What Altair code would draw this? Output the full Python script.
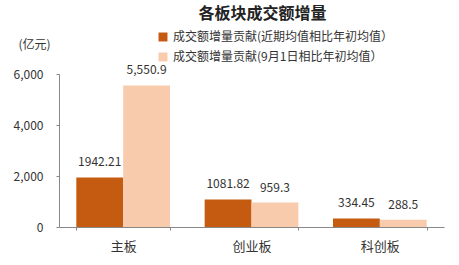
import altair as alt
import pandas as pd

boards = ["主板", "创业板", "科创板"]
series = ["成交额增量贡献(近期均值相比年初均值）", "成交额增量贡献(9月1日相比年初均值）"]
recent = [1942.21, 1081.82, 334.45]
sept1 = [5550.9, 959.3, 288.5]
recent_labels = ["1942.21", "1081.82", "334.45"]
sept1_labels = ["5,550.9", "959.3", "288.5"]
colors = ["#C55A11", "#F8CBAD"]

rows = []
for i, b in enumerate(boards):
    rows.append({"board": b, "series": series[0], "value": recent[i], "label": recent_labels[i]})
    rows.append({"board": b, "series": series[1], "value": sept1[i], "label": sept1_labels[i]})
df = pd.DataFrame(rows)

FONT = "Noto Sans CJK SC"

x = alt.X("board:N", sort=boards,
          scale=alt.Scale(paddingInner=0.27, paddingOuter=0.135),
          axis=alt.Axis(title=None, labelAngle=0, tickBand="extent", tickSize=3,
                        labelPadding=10, labelFontSize=13, labelColor="#333333",
                        domainColor="#888888", tickColor="#888888", labelFont=FONT))
xo = alt.XOffset("series:N", sort=series)

bars = alt.Chart(df).mark_bar().encode(
    x=x, xOffset=xo,
    y=alt.Y("value:Q", scale=alt.Scale(domain=[0, 6000]),
            axis=alt.Axis(title="(亿元)", titleAngle=0, titleX=-25, titleY=-30,
                          titleFontWeight="normal", titleFontSize=12, titleColor="#333333",
                          titleFont=FONT, titleAlign="center", titleBaseline="middle",
                          values=[0, 2000, 4000, 6000], format=",.0f", grid=False,
                          tickSize=3, labelPadding=13, labelFontSize=12,
                          labelColor="#333333", labelFont=FONT,
                          domainColor="#888888", tickColor="#888888")),
    color=alt.Color("series:N", sort=series,
                    scale=alt.Scale(domain=series, range=colors),
                    legend=alt.Legend(title=None, orient="none", legendX=98, legendY=-43,
                                      symbolType="square", symbolSize=80, symbolStrokeWidth=0,
                                      labelFontSize=12, labelFont=FONT, labelColor="#333333",
                                      rowPadding=8, labelLimit=400)),
)

labels = alt.Chart(df).mark_text(baseline="bottom", dy=-8, fontSize=12, font=FONT,
                                 color="#333333").encode(
    x=alt.X("board:N", sort=boards), xOffset=xo,
    y="value:Q", text="label:N",
)

chart = alt.layer(bars, labels).properties(
    width=385, height=153,
    title=alt.TitleParams("各板块成交额增量", fontSize=16, font=FONT, fontWeight="bold",
                          color="#222222", anchor="middle", frame="group", dx=11, offset=9),
    autosize=alt.AutoSizeParams(type="none"),
    padding={"left": 59, "top": 74, "right": 15, "bottom": 38},
).configure_view(stroke=None)

chart.save("out.html", embed_options={"renderer": "svg", "actions": False})
